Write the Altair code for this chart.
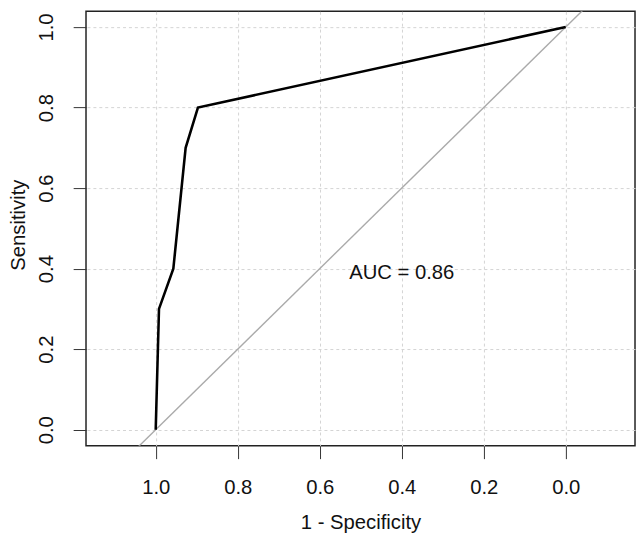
import altair as alt
import pandas as pd

# ROC curve points (specificity on reversed x axis, sensitivity on y)
specificity = [1.0, 0.992, 0.957, 0.927, 0.897, 0.0]
sensitivity = [0.0, 0.30, 0.40, 0.70, 0.80, 1.0]
order = [0, 1, 2, 3, 4, 5]

# chance diagonal (reference line), clipped to the plot area
diag_spec = [1.3, -0.3]
diag_sens = [-0.3, 1.3]

tick_values = [0.0, 0.2, 0.4, 0.6, 0.8, 1.0]
auc_label = ["AUC = 0.86"]
auc_x = [0.4]
auc_y = [0.4]

FONT = "Liberation Sans"
FS = 20.5

roc = pd.DataFrame({"spec": specificity, "sens": sensitivity, "i": order})
diag = pd.DataFrame({"spec": diag_spec, "sens": diag_sens})
txt = pd.DataFrame({"spec": auc_x, "sens": auc_y, "t": auc_label})

xscale = alt.Scale(domain=[-0.169, 1.170], reverse=True, nice=False, zero=False)
yscale = alt.Scale(domain=[-0.040, 1.039], nice=False, zero=False)

xaxis = alt.Axis(
    values=tick_values, format=".1f", title="1 - Specificity",
    domain=False, tickSize=13, tickColor="#333333", tickWidth=1,
    labelFont=FONT, labelFontSize=FS, labelColor="#111111",
    labelPadding=19, labelBaseline="top",
    grid=True, gridColor="#d3d3d3", gridDash=[3, 3], gridWidth=1,
    titleFont=FONT, titleFontSize=FS, titleFontWeight="normal", titleColor="#111111",
    titleBaseline="alphabetic", titleY=84,
)
yaxis = alt.Axis(
    values=tick_values, format=".1f", title="Sensitivity",
    domain=False, tickSize=13, tickColor="#333333", tickWidth=1,
    labelFont=FONT, labelFontSize=FS, labelColor="#111111",
    labelAngle=270, labelAlign="center", labelBaseline="alphabetic", labelPadding=21,
    grid=True, gridColor="#d3d3d3", gridDash=[3, 3], gridWidth=1,
    titleFont=FONT, titleFontSize=FS, titleFontWeight="normal", titleColor="#111111",
    titleAngle=270, titleAlign="center", titleBaseline="alphabetic", titleX=-62, titleY=216,
)

diag_layer = alt.Chart(diag).mark_line(color="#aaaaaa", strokeWidth=1.4, clip=True).encode(
    x=alt.X("spec:Q", scale=xscale, axis=xaxis),
    y=alt.Y("sens:Q", scale=yscale, axis=yaxis),
)

roc_layer = alt.Chart(roc).mark_line(color="#000000", strokeWidth=2.6, clip=True).encode(
    x=alt.X("spec:Q", scale=xscale),
    y=alt.Y("sens:Q", scale=yscale),
    order="i:Q",
)

text_layer = alt.Chart(txt).mark_text(
    font=FONT, fontSize=FS, color="#111111", align="center", baseline="alphabetic", dy=10
).encode(
    x=alt.X("spec:Q", scale=xscale),
    y=alt.Y("sens:Q", scale=yscale),
    text="t:N",
)

chart = alt.layer(diag_layer, roc_layer, text_layer).properties(
    width=556, height=440,
    autosize=alt.AutoSizeParams(type="none"),
    padding={"left": 79, "top": 0, "right": 1, "bottom": 91},
    background="white",
).configure_view(
    stroke="#222222", strokeWidth=1.5
)

chart.save("out.html", embed_options={"renderer": "svg", "actions": False})
